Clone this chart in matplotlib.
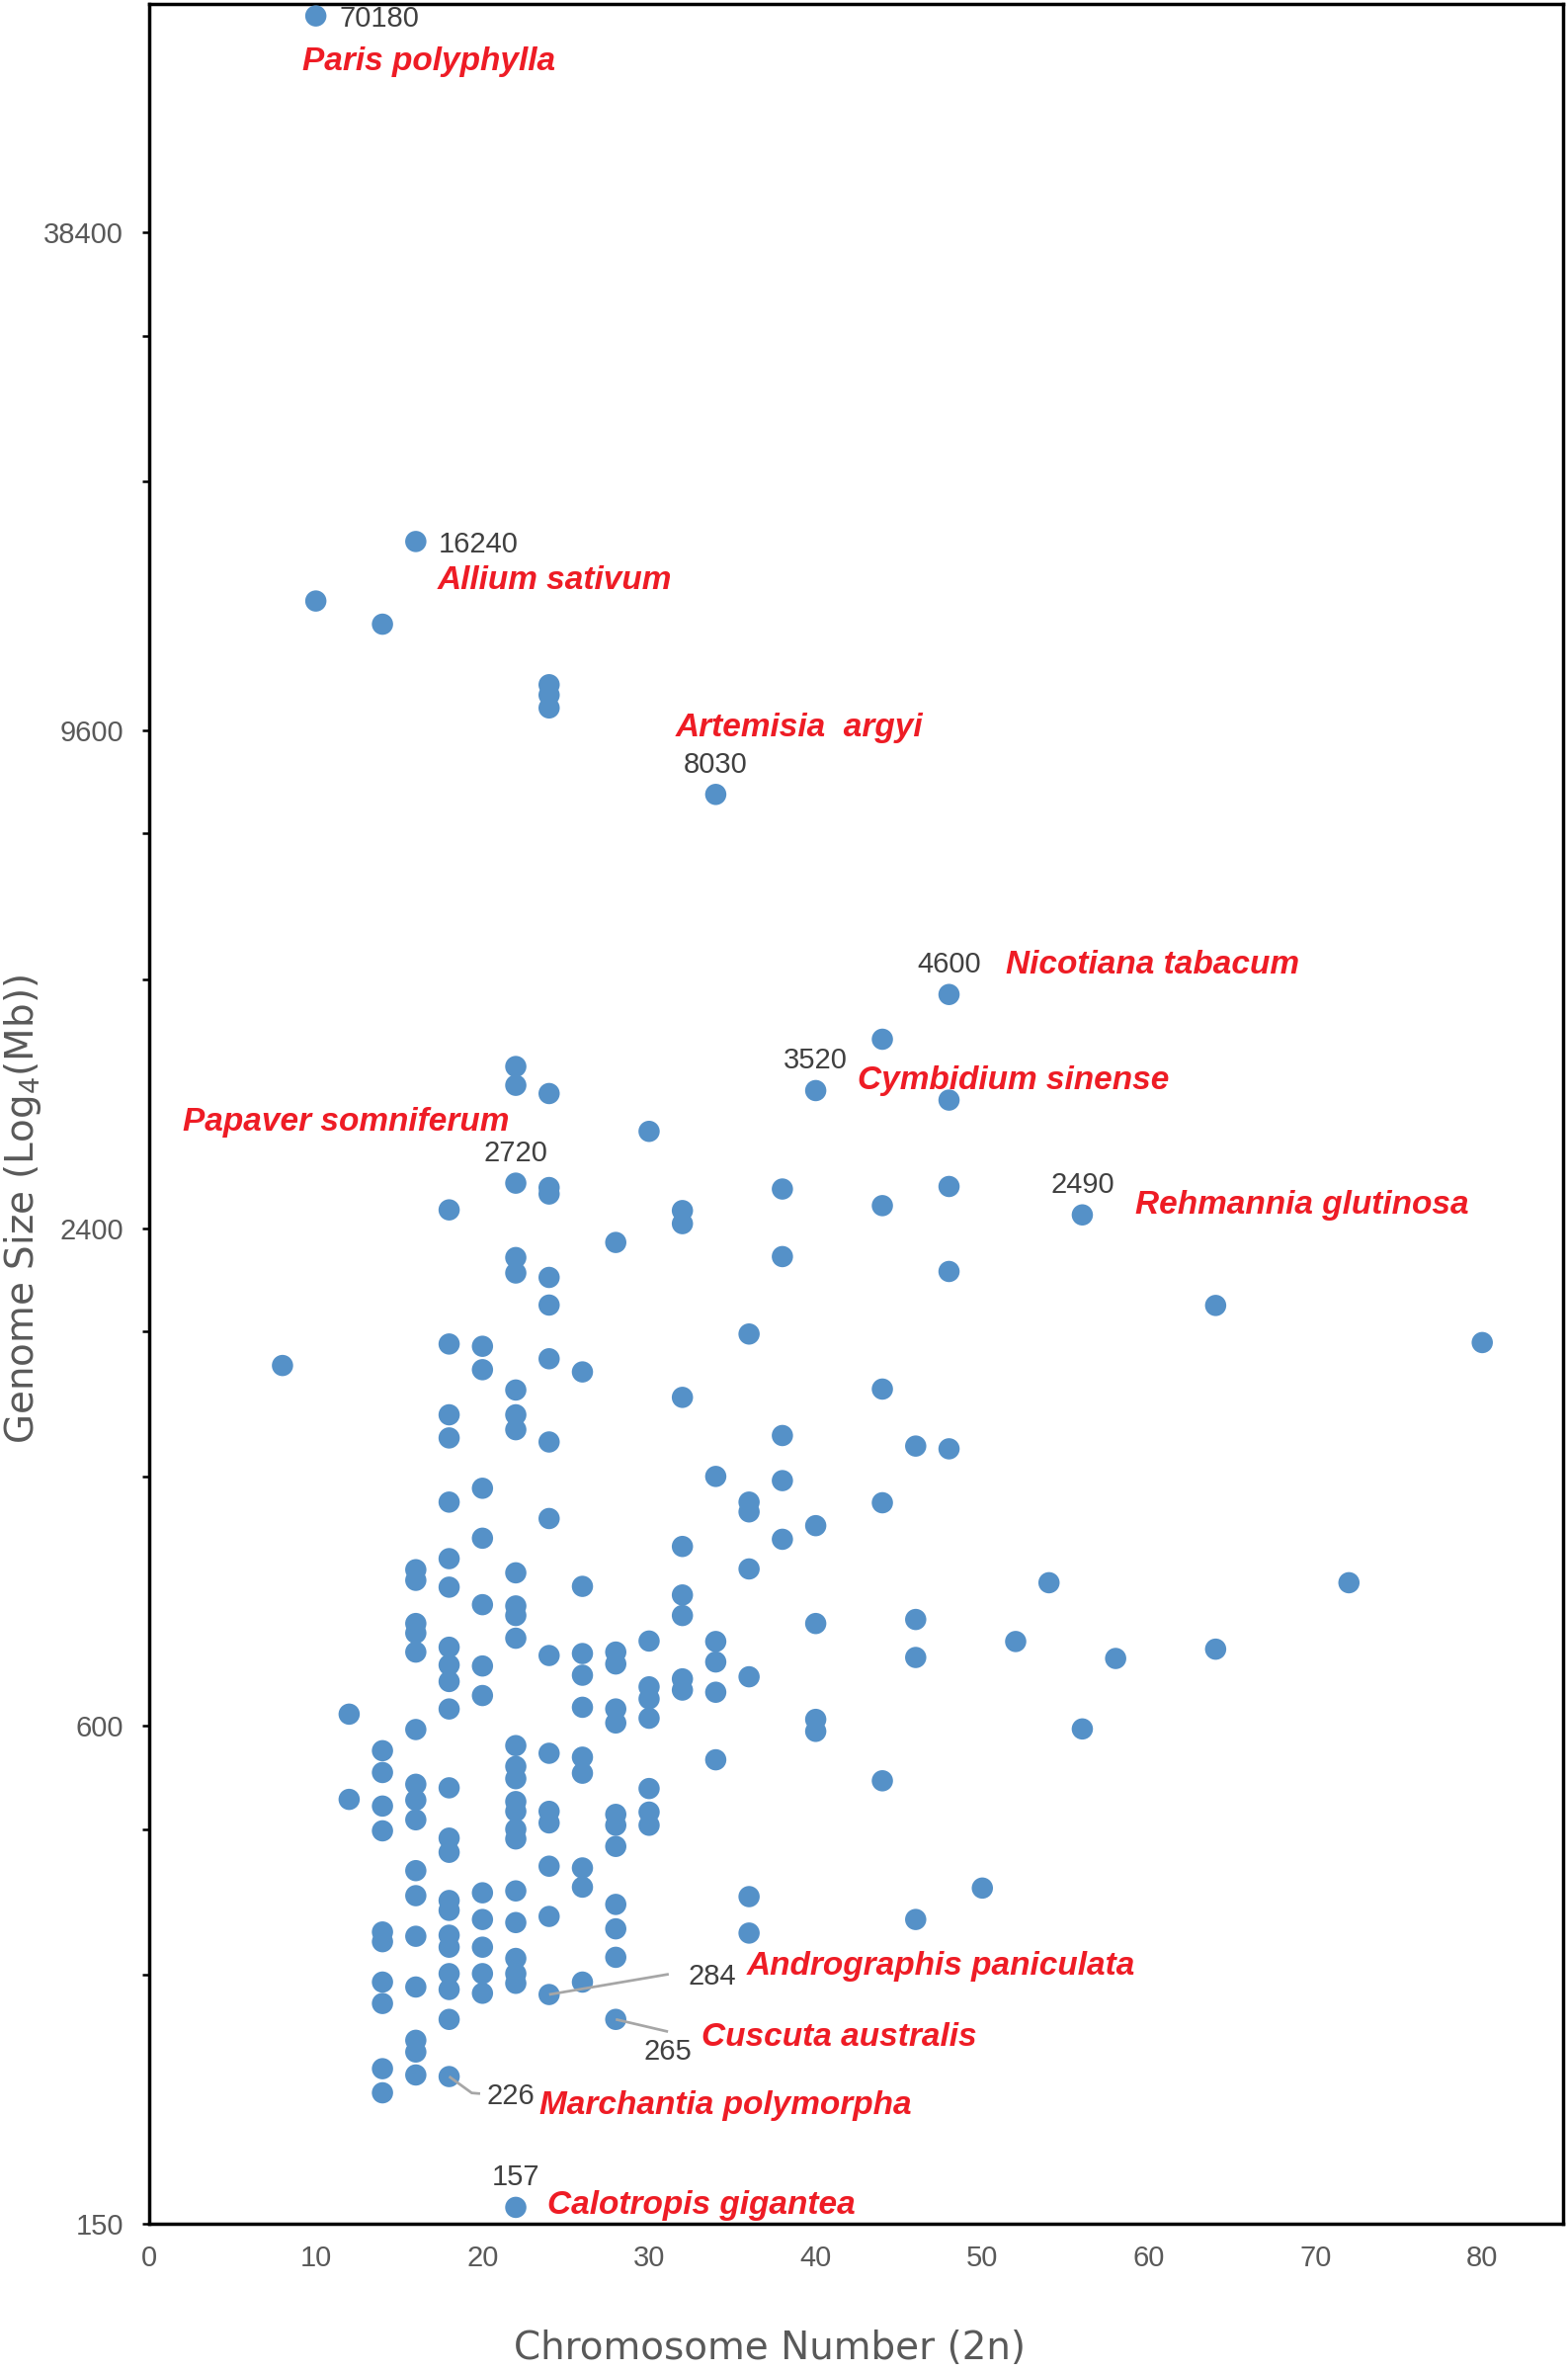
import matplotlib
matplotlib.use('Agg')
import matplotlib.pyplot as plt
import matplotlib.transforms as mtransforms
from matplotlib.ticker import FixedLocator, NullFormatter

# chromosome number (2n) and genome size (Mb)
chrom_2n = (
    [8]
    + [10] * 2
    + [12] * 2
    + [14] * 11
    + [16] * 17
    + [18] * 22
    + [20] * 12
    + [22] * 25
    + [24] * 18
    + [26] * 10
    + [28] * 12
    + [30] * 8
    + [32] * 8
    + [34] * 6
    + [36] * 7
    + [38] * 5
    + [40] * 5
    + [44] * 5
    + [46] * 4
    + [48] * 5
    + [50, 52, 54, 56, 56, 58, 64, 64, 72, 80]
)
genome_mb = [
    1637,
    70180, 13760,
    620, 489,
    12900, 560, 527, 480, 448, 338, 329, 294, 277, 231, 216,
    16240, 927, 900, 798, 777, 737, 594, 510, 488, 462, 401, 374, 334, 290, 250, 242, 227,
    2525, 1738, 1427, 1338, 1119, 956, 883, 747, 711, 679, 629, 505, 439, 422, 369, 359,
    335, 324, 301, 288, 265, 226,
    1727, 1618, 1163, 1012, 841, 709, 653, 377, 350, 324, 301, 285,
    3764, 3572, 2720, 2211, 2118, 1529, 1427, 1369, 919, 838, 816, 766, 568, 536, 518, 486,
    473, 450, 438, 379, 347, 314, 301, 293, 157,
    10899, 10590, 10217, 3491, 2687, 2639, 2092, 1937, 1668, 1323, 1069, 730, 556, 473, 458,
    406, 353, 284,
    1608, 885, 734, 691, 632, 550, 526, 404, 383, 294,
    2306, 737, 713, 629, 605, 469, 455, 429, 365, 341, 315, 265,
    3142, 760, 669, 647, 613, 504, 472, 455,
    2520, 2430, 1498, 989, 864, 816, 684, 663,
    8030, 1202, 759, 717, 659, 546,
    1787, 1119, 1089, 929, 688, 373, 337,
    2676, 2217, 1347, 1188, 1009,
    3520, 1048, 798, 611, 591,
    4061, 2555, 1533, 1117, 515,
    1308, 807, 726, 350,
    4600, 3428, 2695, 2127, 1298,
    382, 759, 894, 2490, 595, 724, 1935, 743, 894, 1745,
]

# labelled species
species = ['Paris polyphylla', 'Allium sativum', 'Artemisia  argyi', 'Papaver somniferum',
           'Cymbidium sinense', 'Nicotiana tabacum', 'Rehmannia glutinosa',
           'Andrographis paniculata', 'Cuscuta australis', 'Marchantia polymorpha',
           'Calotropis gigantea']
species_2n = [10, 16, 34, 22, 40, 48, 56, 24, 28, 18, 22]
species_mb = [70180, 16240, 8030, 2720, 3520, 4600, 2490, 284, 265, 226, 157]

y_major = [150, 600, 2400, 9600, 38400]
y_minor = [300, 450, 1200, 1800, 4800, 7200, 19200, 28800]
x_ticks = [0, 10, 20, 30, 40, 50, 60, 70, 80]

DOT = '#5591c8'
RED = '#ee1c25'
NUM = '#404040'
GREY = '#595959'
LEAD = '#a6a6a6'

fig = plt.figure(figsize=(15.87, 24), dpi=100)
ax = fig.add_axes([151 / 1587, 150 / 2400, (1582 - 151) / 1587, (2396 - 150) / 2400])

ax.scatter(chrom_2n, genome_mb, s=240, color=DOT, edgecolors='none', zorder=3)

ax.set_yscale('log', base=4)
ax.set_xlim(0, 84.85)
ax.set_ylim(150, 72560)

ax.yaxis.set_major_locator(FixedLocator(y_major))
ax.set_yticklabels([str(v) for v in y_major])
ax.yaxis.set_minor_locator(FixedLocator(y_minor))
ax.yaxis.set_minor_formatter(NullFormatter())
ax.set_xticks(x_ticks)
ax.set_xticklabels([str(v) for v in x_ticks])

for s in ax.spines.values():
    s.set_linewidth(2.5)
ax.tick_params(axis='y', which='both', direction='out', length=5, width=1.8,
               pad=13.7, labelsize=21, labelcolor=GREY)
ax.tick_params(axis='x', length=0, pad=15, labelsize=21, labelcolor=GREY)
for lab in ax.get_xticklabels() + ax.get_yticklabels():
    lab.set_fontfamily('Liberation Sans')

fig.text(779 / 1587, 0.0100, 'Chromosome Number (2n)', ha='center', va='center',
         fontsize=28, color=GREY, family='DejaVu Sans')
fig.text(23 / 1587, 1 - 1223 / 2400, 'Genome Size (Log$_4$(Mb))', ha='center',
         va='center', rotation=90, fontsize=28, color=GREY, family='DejaVu Sans')

# offsets in pixels (dx right, dy up) from each labelled point
name_off = [(-13.8, -54.9), (21.4, -48.1), (-40.8, 59.1), (-337.4, 53.4), (42, 1),
            (57.3, 21.7), (53.5, 1.6), (199.9, 20), (86.9, -26.7), (91.3, -38.3),
            (32.3, -6.7)]
num_off = [(23.4, -10.7, 'left'), (23, -11.5, 'left'), (0, 22, 'center'), (0, 22, 'center'),
           (0, 22, 'center'), (0, 22, 'center'), (0, 22, 'center'), (140.9, 10, 'left'),
           (28.4, -40.7, 'left'), (38, -27.6, 'left'), (0, 22, 'center')]
leaders = {7: [(0, 0), (121.1, 20.6)],
           8: [(0, 0), (52.9, -12.4)],
           9: [(0, 0), (22.9, -16.6), (31.4, -17.3)]}

for i, name in enumerate(species):
    x, y = species_2n[i], species_mb[i]
    dx, dy = name_off[i]
    ax.annotate(name, (x, y), xytext=(dx * 0.72, dy * 0.72), textcoords='offset points',
                ha='left', va='baseline', fontsize=24, color=RED,
                family='Liberation Sans', fontweight='bold', fontstyle='italic', zorder=5)
    ndx, ndy, nha = num_off[i]
    ax.annotate(str(y), (x, y), xytext=(ndx * 0.72, ndy * 0.72), textcoords='offset points',
                ha=nha, va='baseline', fontsize=21, color=NUM,
                family='Liberation Sans', zorder=5)
    if i in leaders:
        pts = leaders[i]
        tr = fig.dpi_scale_trans + mtransforms.ScaledTranslation(x, y, ax.transData)
        ax.plot([p[0] / 100 for p in pts], [p[1] / 100 for p in pts], color=LEAD,
                lw=1.95, transform=tr, zorder=4, clip_on=False,
                solid_capstyle='butt')

fig.savefig('out.png', dpi=100)
